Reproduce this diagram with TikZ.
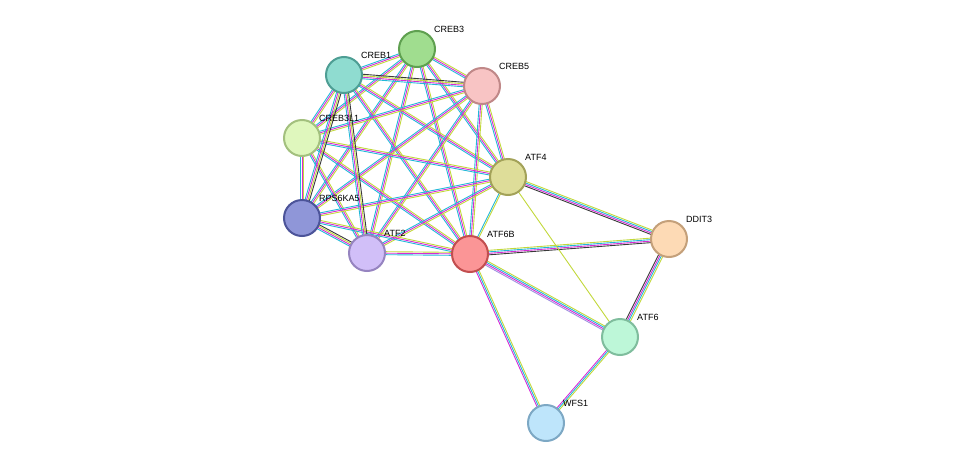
\documentclass[tikz,border=0pt]{standalone}
\usepackage{fontspec}
\setmainfont{Liberation Sans}
\usetikzlibrary{calc}
\definecolor{ecy}{HTML}{22B8D8}
\definecolor{emg}{HTML}{D62BD6}
\definecolor{eyg}{HTML}{C2D83A}
\definecolor{ebk}{HTML}{3A3A3A}
\definecolor{epu}{HTML}{9F8FE0}
\newcommand\sedge[4]{%
  \foreach \c [count=\i] in {#4} {%
    \pgfmathsetmacro\off{(\i-(#3+1)/2)*1.5}%
    \draw[\c,line width=0.9pt] ($(#1)!\off pt!90:(#2)$) -- ($(#2)!\off pt!-90:(#1)$);
  }}
\tikzset{prot/.style={circle,minimum size=36pt,inner sep=0pt,line width=2pt},
lab/.style={anchor=west,font=\fontsize{9}{10}\selectfont,inner sep=0pt}}
\begin{document}
\begin{tikzpicture}[x=1pt,y=-1pt]
\useasboundingbox (0,0) rectangle (975,469);
\coordinate (CREB3) at (417,49);
\coordinate (CREB1) at (344,75);
\coordinate (CREB5) at (482,86);
\coordinate (CREB3L1) at (302,138);
\coordinate (ATF4) at (508,177);
\coordinate (RPS6KA5) at (302,218);
\coordinate (ATF2) at (367,253);
\coordinate (ATF6B) at (470,254);
\coordinate (DDIT3) at (669,239);
\coordinate (ATF6) at (620,337);
\coordinate (WFS1) at (546,423);
% cluster
\foreach \a/\b in {CREB3/CREB1,CREB3/CREB5,CREB3/CREB3L1,CREB3/ATF4,CREB3/RPS6KA5,CREB3/ATF2,CREB3/ATF6B,
CREB1/CREB3L1,CREB1/ATF4,CREB1/ATF6B,CREB5/CREB3L1,CREB5/ATF4,CREB5/RPS6KA5,CREB5/ATF2,CREB5/ATF6B,
CREB3L1/ATF4,CREB3L1/RPS6KA5,CREB3L1/ATF2,CREB3L1/ATF6B,ATF4/RPS6KA5,ATF4/ATF2,RPS6KA5/ATF6B,ATF2/ATF6B}
  {\sedge{\a}{\b}{3}{ecy,emg,eyg}}
\foreach \a/\b in {CREB1/CREB5,CREB1/RPS6KA5,CREB1/ATF2,RPS6KA5/ATF2}
  {\sedge{\a}{\b}{4}{ecy,emg,eyg,ebk}}
\sedge{ATF4}{ATF6B}{2}{ecy,eyg}
\sedge{ATF4}{DDIT3}{4}{ebk,emg,ecy,eyg}
\sedge{ATF6B}{DDIT3}{4}{ebk,emg,ecy,eyg}
\sedge{DDIT3}{ATF6}{4}{ebk,emg,ecy,eyg}
\sedge{ATF6B}{ATF6}{4}{epu,emg,ecy,eyg}
\sedge{ATF6B}{WFS1}{3}{emg,ecy,eyg}
\sedge{ATF6}{WFS1}{3}{emg,ecy,eyg}
\sedge{ATF4}{ATF6}{1}{eyg}
% nodes
\foreach \n/\f/\d in {CREB3/A0DD8F/5FA050,CREB1/8FDCD0/4E9E94,CREB5/F8C4C4/C08888,CREB3L1/DFF7BD/A3C07E,
ATF4/DEDD99/A3A259,RPS6KA5/8F96D8/4C5499,ATF2/D1BFF8/9684C0,ATF6B/FB9596/C24E4F,DDIT3/FDDAB5/C4A07A,
ATF6/BDF7D8/7FBD9D,WFS1/BEE5FB/7DA8C4}{
  \definecolor{f\n}{HTML}{\f}\definecolor{d\n}{HTML}{\d}
  \node[prot,fill=f\n,draw=d\n] (n\n) at (\n) {};
  \node[lab] (l\n) at ($(\n)+(17,-20)$) {\n};
}
\end{tikzpicture}
\end{document}
